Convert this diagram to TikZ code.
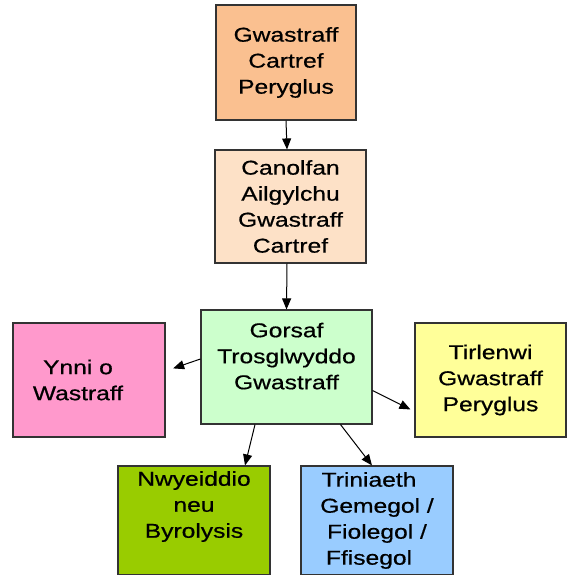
\documentclass[tikz,border=0pt]{standalone}
\usepackage{fontspec}
\setmainfont{Liberation Sans}[FakeStretch=1.23, FakeBold=0.6]
\usetikzlibrary{arrows.meta}
\usetikzlibrary{positioning}

\definecolor{oren}{HTML}{FAC090}
\definecolor{eirin}{HTML}{FDE1C7}
\definecolor{gwyrddgolau}{HTML}{CCFFCC}
\definecolor{pinc}{HTML}{FF99CC}
\definecolor{melyn}{HTML}{FFFF99}
\definecolor{leim}{HTML}{99CC00}
\definecolor{glas}{HTML}{99CCFF}

\begin{document}
\begin{tikzpicture}[x = 1pt, y = 1pt,
        blwch/.style = {draw = black!80, line width = 1.1pt, align = center, inner sep = 2pt,
                font = \fontsize{20pt}{26pt}\selectfont},
        saeth/.style = {-{Triangle[length = 11pt, width = 9pt]}, line width = 1pt, black}]
        \useasboundingbox (0,0) rectangle (567,575);

        \node [blwch, fill = oren, minimum width = 140, minimum height = 115] (cartref) at (286, 512.5)
                {Gwastraff\\Cartref\\Peryglus};
        \node [blwch, fill = eirin, minimum width = 151, minimum height = 113] (canolfan) at (290.5, 368.5)
                {Canolfan\\Ailgylchu\\Gwastraff\\Cartref};
        \node [blwch, fill = gwyrddgolau, minimum width = 171, minimum height = 114] (gorsaf) at (286.5, 208)
                {Gorsaf\\Trosglwyddo\\Gwastraff\\[-4pt]\mbox{}};
        \node [blwch, fill = pinc, minimum width = 152, minimum height = 114] (ynni) at (89, 195)
                {Ynni o\hspace*{22pt}\\Wastraff\hspace*{22pt}};
        \node [blwch, fill = melyn, minimum width = 151, minimum height = 114] (tirlenwi) at (490.5, 195)
                {Tirlenwi\\Gwastraff\\Peryglus};
        \node [blwch, fill = leim, minimum width = 152, minimum height = 109] (nwy) at (194, 54.5)
                {Nwyeiddio\\neu\\Byrolysis\\[6pt]\mbox{}};
        \node [blwch, fill = glas, minimum width = 152, minimum height = 109] (triniaeth) at (377, 54.5)
                {Triniaeth\hspace*{16pt}\\Gemegol /\hspace*{16pt}\\Fiolegol /\hspace*{16pt}\\Ffisegol\hspace*{16pt}};

        \draw [saeth] (cartref.south) -- ([xshift = -3.5]canolfan.north);
        \draw [saeth] ([xshift = -3.5]canolfan.south) -- (gorsaf.north);
        \draw [saeth, shorten > = 8pt] ([yshift = 8]gorsaf.west) -- ([yshift = 9]ynni.east);
        \draw [saeth, shorten > = 4.5pt] ([yshift = -23.5]gorsaf.east) -- ([yshift = -31.5]tirlenwi.west);
        \draw [saeth] ([xshift = -31.5]gorsaf.south) -- ([xshift = 51]nwy.north);
        \draw [saeth] ([xshift = 54]gorsaf.south) -- ([xshift = -5]triniaeth.north);
\end{tikzpicture}
\end{document}
